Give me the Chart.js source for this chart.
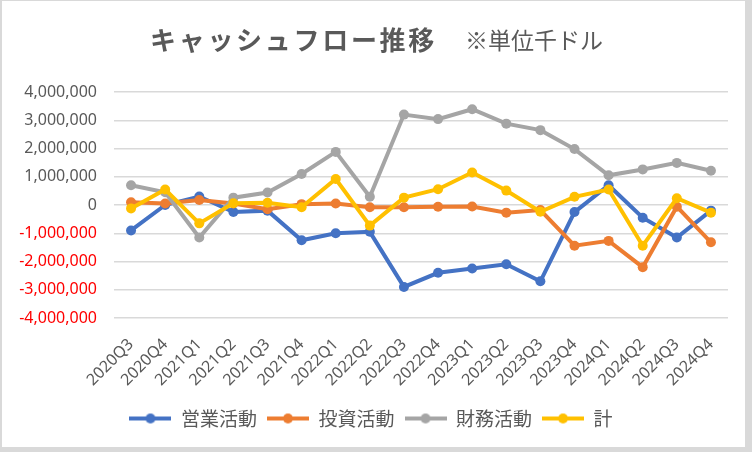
<!DOCTYPE html>
<html>
<head>
<meta charset="utf-8">
<script src="https://cdn.jsdelivr.net/npm/chart.js@4"></script>
<style>
  html, body { margin: 0; padding: 0; background: #d9d9d9; }
  #wrap { position: absolute; left: 2px; top: 1px; width: 743px; height: 446px; background: #fff; }
</style>
</head>
<body>
<div id="wrap"><canvas id="cfChart"></canvas></div>
<script>
const quarters = ['2020Q3', '2020Q4', '2021Q1', '2021Q2', '2021Q3', '2021Q4', '2022Q1', '2022Q2', '2022Q3',
  '2022Q4', '2023Q1', '2023Q2', '2023Q3', '2023Q4', '2024Q1', '2024Q2', '2024Q3', '2024Q4'];
const operating = [-900000, 0, 300000, -250000, -200000, -1250000, -1000000, -950000, -2900000,
  -2400000, -2250000, -2100000, -2700000, -250000, 700000, -450000, -1150000, -200000];
const investing = [100000, 50000, 180000, 50000, -150000, 30000, 50000, -80000, -80000,
  -60000, -50000, -270000, -180000, -1440000, -1270000, -2200000, -60000, -1320000];
const financing = [700000, 450000, -1150000, 260000, 440000, 1100000, 1880000, 290000, 3200000,
  3040000, 3390000, 2880000, 2650000, 1980000, 1050000, 1260000, 1490000, 1210000];
const total = [-120000, 550000, -650000, 60000, 80000, -80000, 920000, -730000, 260000,
  560000, 1150000, 510000, -240000, 290000, 550000, -1440000, 240000, -270000];
const seriesNames = ['営業活動', '投資活動', '財務活動', '計'];
const seriesColors = ['#4472C4', '#ED7D31', '#A5A5A5', '#FFC000'];
const titleMain = 'キャッシュフロー推移';
const titleUnit = '※単位千ドル';

const jpFont = '"Noto Sans CJK JP", sans-serif';
const numFont = '"Noto Sans", "Noto Sans CJK JP", sans-serif';

// legend icon: short line with a dot in the middle, like Excel
function legendIcon(color) {
  const c = document.createElement('canvas');
  c.width = 42; c.height = 12;
  const g = c.getContext('2d');
  g.strokeStyle = color; g.lineWidth = 4;
  g.beginPath(); g.moveTo(0, 6); g.lineTo(42, 6); g.stroke();
  g.fillStyle = color;
  g.beginPath(); g.arc(21, 6, 5, 0, Math.PI * 2); g.fill();
  return c;
}

function makeSet(i, values) {
  return {
    label: seriesNames[i],
    data: values,
    borderColor: seriesColors[i],
    backgroundColor: seriesColors[i],
    borderWidth: 4,
    pointRadius: 5,
    pointHoverRadius: 5,
    pointBorderWidth: 0,
    tension: 0,
    order: 4 - i // later series on top
  };
}

const titlePlugin = {
  id: 'twoPartTitle',
  afterDraw(chart) {
    const c = chart.ctx;
    c.save();
    c.fillStyle = '#595959';
    c.textBaseline = 'middle';
    c.textAlign = 'left';
    c.font = 'bold 26px ' + jpFont;
    c.letterSpacing = '2.7px';
    const w1 = c.measureText(titleMain).width;
    c.font = '23px ' + jpFont;
    c.letterSpacing = '0px';
    const w2 = c.measureText(titleUnit).width;
    const gap = 28;
    let x = chart.width / 2 - (w1 + gap + w2) / 2 + 3;
    const y = 39;
    c.font = 'bold 26px ' + jpFont;
    c.letterSpacing = '2.7px';
    c.fillText(titleMain, x, y);
    c.font = '23px ' + jpFont;
    c.letterSpacing = '0px';
    c.fillText(titleUnit, x + w1 + gap, y);
    c.restore();
  }
};

const ctx = document.getElementById('cfChart').getContext('2d');
const cfChart = new Chart(ctx, {
  type: 'line',
  data: {
    labels: quarters,
    datasets: [makeSet(0, operating), makeSet(1, investing), makeSet(2, financing), makeSet(3, total)]
  },
  options: {
    responsive: true,
    maintainAspectRatio: false,
    animation: false,
    layout: { padding: { top: 91, left: 12, right: 17, bottom: 9 } },
    plugins: {
      title: { display: false },
      tooltip: { enabled: false },
      legend: {
        position: 'bottom',
        labels: {
          usePointStyle: true,
          pointStyleWidth: 42,
          boxHeight: 12,
          padding: 10,
          color: '#595959',
          font: { family: jpFont, size: 19 },
          sort: (a, b) => a.datasetIndex - b.datasetIndex,
          generateLabels(chart) {
            const items = Chart.defaults.plugins.legend.labels.generateLabels(chart);
            items.forEach(it => { it.pointStyle = legendIcon(seriesColors[it.datasetIndex]); });
            return items;
          }
        }
      }
    },
    scales: {
      x: {
        offset: true,
        grid: { display: false, drawTicks: false },
        border: { display: false },
        ticks: {
          color: '#595959',
          font: { family: numFont, size: 16 },
          minRotation: 45,
          maxRotation: 45,
          padding: 17,
          autoSkip: false
        },
        afterFit(scale) { scale.height = 81; }
      },
      y: {
        min: -4000000,
        max: 4000000,
        grid: { color: '#D9D9D9', lineWidth: 1.5, drawTicks: false },
        border: { display: false },
        ticks: {
          stepSize: 1000000,
          padding: 17,
          font: { family: numFont, size: 16 },
          color: (c) => (c.tick && c.tick.value < 0 ? '#FF0000' : '#595959'),
          callback: (v) => v.toLocaleString('en-US')
        },
        afterFit(scale) { scale.width = 100; }
      }
    }
  },
  plugins: [titlePlugin]
});
</script>
</body>
</html>
